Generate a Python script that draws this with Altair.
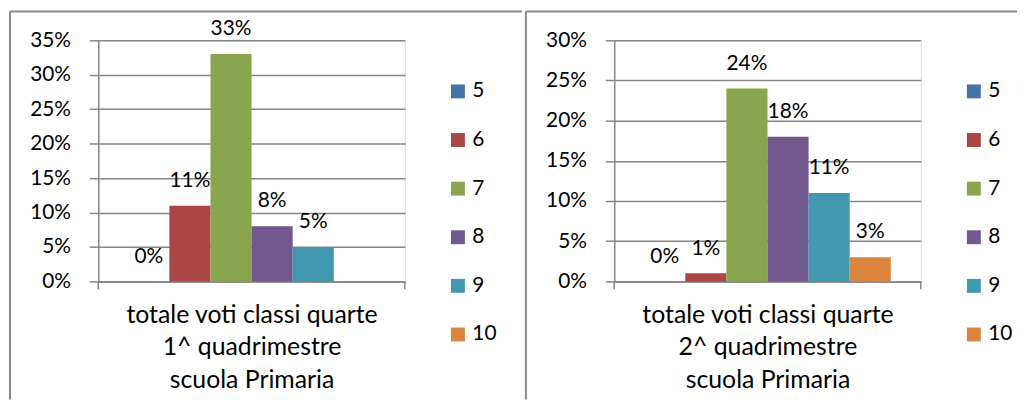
import altair as alt
import pandas as pd

grades = ["5", "6", "7", "8", "9", "10"]
colors = ["#4572A7", "#AA4643", "#89A54E", "#71588F", "#4198AF", "#DB843D"]

# panel 1: 1^ quadrimestre (grade 10 has no value)
grades_q1 = ["5", "6", "7", "8", "9"]
values_q1 = [0.00, 0.11, 0.33, 0.08, 0.05]
# panel 2: 2^ quadrimestre
grades_q2 = ["5", "6", "7", "8", "9", "10"]
values_q2 = [0.00, 0.01, 0.24, 0.18, 0.11, 0.03]

ticks_q1 = [0.0, 0.05, 0.10, 0.15, 0.20, 0.25, 0.30, 0.35]
ticks_q2 = [0.0, 0.05, 0.10, 0.15, 0.20, 0.25, 0.30]

title_q1 = ["totale voti classi quarte", "1^ quadrimestre", "scuola Primaria"]
title_q2 = ["totale voti classi quarte", "2^ quadrimestre", "scuola Primaria"]

FONT = "Lato"
GRID = "#868686"
BORDER = "#8a8a8a"
W, H = 309, 243
FS = 21


def panel(gr, vals, ticks, xtitle, right_end):
    df = pd.DataFrame({"grade": gr, "value": vals})
    one = pd.DataFrame({"k": [0]})
    xscale = alt.Scale(domain=grades, paddingInner=0, paddingOuter=0.73)
    yscale = alt.Scale(domain=[0, ticks[-1]], nice=False)
    base = alt.Chart(df).encode(
        x=alt.X("grade:N", scale=xscale, sort=grades,
                axis=alt.Axis(title=xtitle, labels=False, ticks=False,
                              domainColor=GRID, domainWidth=1.5,
                              titleFontSize=25, titleFontWeight="normal",
                              titleLineHeight=33, titlePadding=21,
                              titleColor="black", titleFont=FONT)),
        y=alt.Y("value:Q", scale=yscale,
                axis=alt.Axis(title=None, format=".0%", values=ticks,
                              labelOverlap=False,
                              tickSize=9, tickColor=GRID, tickWidth=1.5,
                              domainColor=GRID, domainWidth=1.5,
                              gridColor=GRID, gridWidth=1.5,
                              labelFontSize=FS, labelColor="black", labelPadding=19,
                              labelFont=FONT)),
    )
    bars = base.mark_bar().encode(
        color=alt.Color("grade:N", scale=alt.Scale(domain=grades, range=colors),
                        sort=grades,
                        legend=alt.Legend(title=None, orient="none", legendX=352, legendY=41,
                                          symbolType="square", symbolSize=196,
                                          symbolStrokeWidth=0, labelFontSize=FS,
                                          labelFont=FONT, labelColor="black",
                                          labelOffset=4, rowPadding=27, direction="vertical")),
    )
    labels = base.mark_text(fontSize=FS, font=FONT, color="black", dy=-25,
                            baseline="middle").encode(
        text=alt.Text("value:Q", format=".0%"),
    )
    tick_l = alt.Chart(one).mark_rule(color=GRID, strokeWidth=1.5).encode(
        x=alt.value(0), y=alt.value(H), y2=alt.value(H + 8))
    tick_r = alt.Chart(one).mark_rule(color=GRID, strokeWidth=1.5).encode(
        x=alt.value(W), y=alt.value(H), y2=alt.value(H + 8))
    border_v = alt.Chart(one).mark_rule(color=BORDER, strokeWidth=2).encode(
        x=alt.value(-89), y=alt.value(-29), y2=alt.value(362))
    border_h = alt.Chart(one).mark_rule(color=BORDER, strokeWidth=2).encode(
        x=alt.value(-89), x2=alt.value(right_end), y=alt.value(-29))
    return alt.layer(border_v, border_h, bars, labels, tick_l, tick_r).properties(
        width=W, height=H)


left = panel(grades_q1, values_q1, ticks_q1, title_q1, 427)
right = panel(grades_q2, values_q2, ticks_q2, title_q2, 406)

chart = alt.hconcat(left, right, spacing=0).resolve_legend(color="independent").resolve_scale(
    y="independent").properties(
    padding={"left": 0, "top": 0, "right": 0, "bottom": 0}
).configure_view(stroke=None).configure(font=FONT)

chart.save("out.html", embed_options={"renderer": "svg", "actions": False})
